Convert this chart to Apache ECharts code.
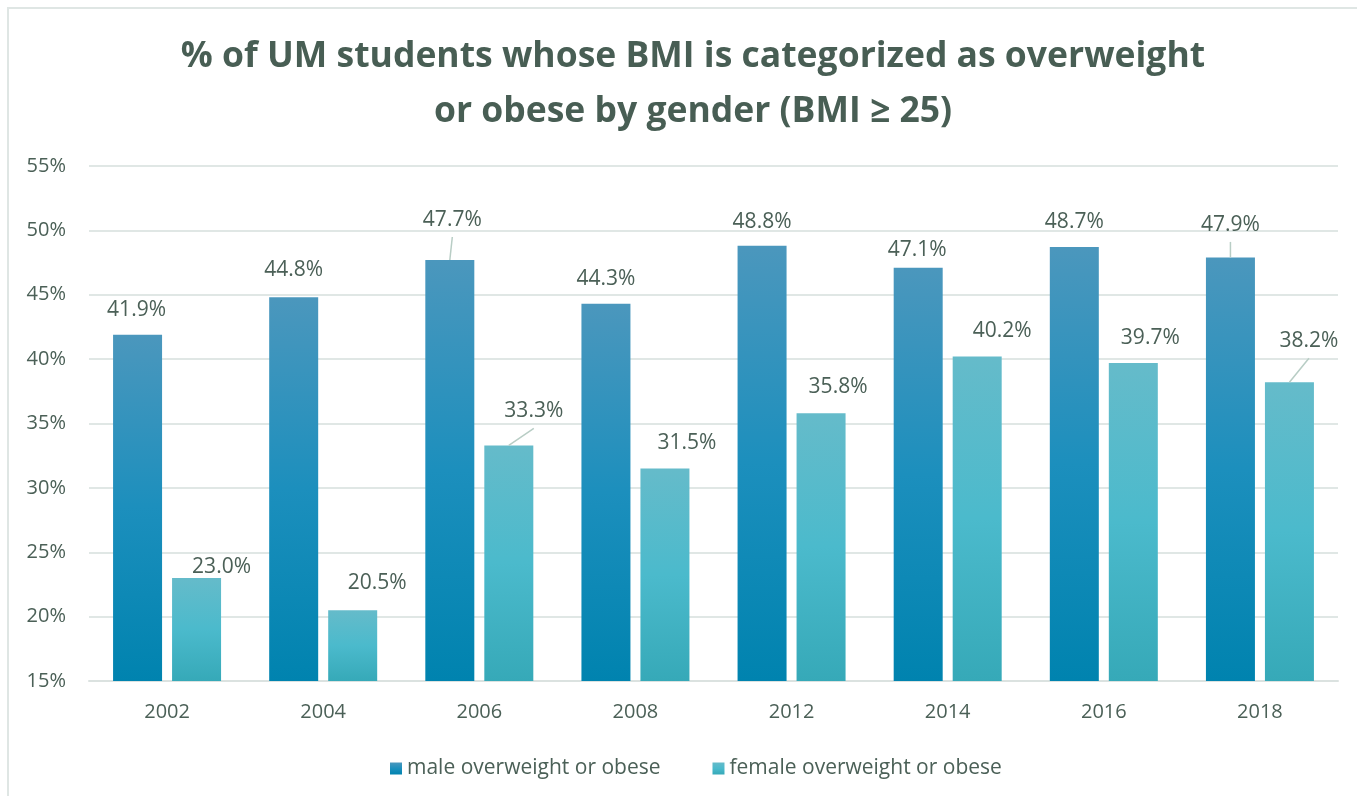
<!DOCTYPE html>
<html>
<head>
<meta charset="utf-8">
<title>UM students BMI by gender</title>
<script src="https://cdn.jsdelivr.net/npm/echarts@6/dist/echarts.min.js"></script>
<style>
  html, body { margin: 0; padding: 0; background: #ffffff; }
  #chart { width: 1357px; height: 796px; }
</style>
</head>
<body>
<div id="chart"></div>
<script>
// data
const years = ['2002', '2004', '2006', '2008', '2012', '2014', '2016', '2018']
const maleValues = [41.9, 44.8, 47.7, 44.3, 48.8, 47.1, 48.7, 47.9]
const femaleValues = [23.0, 20.5, 33.3, 31.5, 35.8, 40.2, 39.7, 38.2]
const yTicks = { min: 15, max: 55, step: 5 }
const seriesNames = ['male overweight or obese', 'female overweight or obese']

// hand-placed data labels (like the original): shift right, height above bar top, guide line
const maleLabelDx = [-1, 0, 2.5, 0, 0, -1, 0, 0]
const maleLabelRise = [25, 27, 40, 24.5, 24, 17.5, 25, 32.5]
const maleLabelLine = [false, false, true, false, false, false, false, true]
const femaleLabelDx = [25, 24.5, 25, 22, 17, 25, 17, 19.5]
const femaleLabelRise = [11, 27.5, 34, 26, 26, 26, 25, 41]
const femaleLabelLine = [false, false, true, false, false, false, false, true]

const TEXT = '#4b6057'
const GRID_LINE = '#e0e7e5'
const FONT = "'Open Sans', 'Noto Sans', sans-serif"
const BAR_W = 49
const BAR_GAP = 10
const HALF_STEP = (BAR_W + BAR_GAP) / 2

const maleFill = new echarts.graphic.LinearGradient(0, 0, 0, 1, [
  { offset: 0, color: '#4b97bd' },
  { offset: 0.5, color: '#1c8fbd' },
  { offset: 1, color: '#0083af' },
])
const femaleFill = new echarts.graphic.LinearGradient(0, 0, 0, 1, [
  { offset: 0, color: '#65bbca' },
  { offset: 0.5, color: '#4bbacc' },
  { offset: 1, color: '#36a9b8' },
])

function placeLabel(dxList, riseList) {
  return (p) => {
    const r = p.rect
    const top = Math.min(r.y, r.y + r.height)
    return {
      x: r.x + r.width / 2 + dxList[p.dataIndex],
      y: top - riseList[p.dataIndex],
      align: 'center',
      verticalAlign: 'middle',
    }
  }
}

// guide lines: [category index, value, label dx, label rise, bar offset]
const guideRows = []
maleValues.forEach((v, i) => {
  if (maleLabelLine[i]) guideRows.push([i, v, maleLabelDx[i], maleLabelRise[i], -HALF_STEP])
})
femaleValues.forEach((v, i) => {
  if (femaleLabelLine[i]) guideRows.push([i, v, femaleLabelDx[i], femaleLabelRise[i], HALF_STEP])
})

const labelStyle = {
  show: true,
  position: 'top',
  color: TEXT,
  fontFamily: FONT,
  fontSize: 21,
  formatter: (p) => p.value.toFixed(1) + '%',
}

const chart = echarts.init(document.getElementById('chart'))
chart.setOption({
  backgroundColor: '#ffffff',
  animation: false,
  textStyle: { fontFamily: FONT },
  graphic: [
    {
      type: 'rect',
      shape: { x: 8, y: 8, width: 1400, height: 900 },
      style: { fill: 'none', stroke: '#dfe6e4', lineWidth: 2 },
      silent: true,
    },
  ],
  title: {
    text: '% of UM students whose BMI is categorized as overweight\nor obese by gender (BMI ≥ 25)',
    left: 688,
    textAlign: 'center',
    top: 24,
    textStyle: {
      color: '#485e54',
      fontFamily: FONT,
      fontWeight: 'bold',
      fontSize: 35.5,
      lineHeight: 55,
    },
  },
  legend: {
    data: seriesNames,
    left: 385,
    top: 753,
    itemWidth: 12,
    itemHeight: 12,
    itemGap: 52,
    icon: 'rect',
    textStyle: { color: TEXT, fontSize: 21, fontFamily: FONT },
  },
  grid: { left: 89, right: 19, top: 166, bottom: 115 },
  xAxis: {
    type: 'category',
    data: years,
    axisTick: { show: false },
    axisLine: { lineStyle: { color: '#dbe2e0', width: 2 } },
    axisLabel: { color: TEXT, fontSize: 20, margin: 21 },
  },
  yAxis: {
    type: 'value',
    min: yTicks.min,
    max: yTicks.max,
    interval: yTicks.step,
    axisLine: { show: false },
    axisTick: { show: false },
    axisLabel: { color: TEXT, fontSize: 20, margin: 23, formatter: '{value}%' },
    splitLine: { lineStyle: { color: GRID_LINE, width: 2 } },
  },
  series: [
    {
      name: seriesNames[0],
      type: 'bar',
      barWidth: BAR_W,
      barGap: (BAR_GAP / BAR_W * 100) + '%',
      itemStyle: { color: maleFill },
      data: maleValues,
      label: labelStyle,
      labelLayout: placeLabel(maleLabelDx, maleLabelRise),
    },
    {
      name: seriesNames[1],
      type: 'bar',
      barWidth: BAR_W,
      barGap: (BAR_GAP / BAR_W * 100) + '%',
      itemStyle: { color: femaleFill },
      data: femaleValues,
      label: labelStyle,
      labelLayout: placeLabel(femaleLabelDx, femaleLabelRise),
    },
    {
      name: 'guides',
      type: 'custom',
      silent: true,
      z: 5,
      data: guideRows,
      renderItem: (params, api) => {
        const c = api.coord([api.value(0), api.value(1)])
        const bx = c[0] + api.value(4)
        return {
          type: 'line',
          shape: {
            x1: bx + api.value(2),
            y1: c[1] - api.value(3) + 17,
            x2: bx,
            y2: c[1],
          },
          style: { stroke: '#b8cdc5', lineWidth: 1.5 },
        }
      },
    },
  ],
})

window.addEventListener('resize', () => chart.resize())
</script>
</body>
</html>
